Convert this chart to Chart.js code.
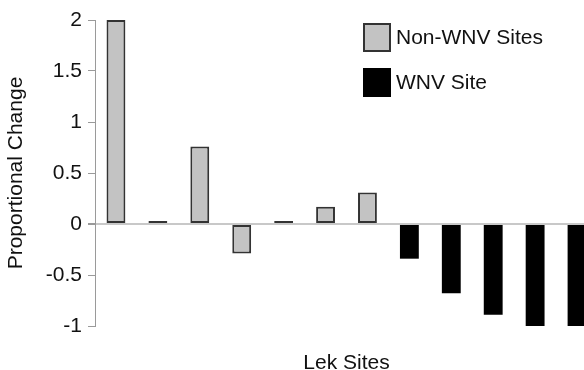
<!DOCTYPE html>
<html>
<head>
<meta charset="utf-8">
<script src="https://cdn.jsdelivr.net/npm/chart.js@4.4.1/dist/chart.umd.min.js"></script>
<style>
html, body { margin: 0; padding: 0; background: #fff; overflow: hidden; }
#wrap { width: 600px; height: 376px; }
</style>
</head>
<body>
<div id="wrap"><canvas id="chart" width="600" height="376"></canvas></div>
<script>
// Lek sites, left to right (last one runs off the right edge)
var siteLabels = ['1', '2', '3', '4', '5', '6', '7', '8', '9', '10', '11', '12'];
var nonWnvValues = [2.0, 0.03, 0.76, -0.29, 0.03, 0.17, 0.31, null, null, null, null, null];
var wnvValues = [null, null, null, null, null, null, null, -0.34, -0.68, -0.89, -1.0, -1.0];
var yTicks = [2, 1.5, 1, 0.5, 0, -0.5, -1];

var fontFamily = '"Liberation Sans", Arial, Helvetica, sans-serif';
var textColor = '#111111';

// Legend drawn as two square boxes at the top right
var boxLegend = {
    id: 'boxLegend',
    afterDraw: function(chart) {
        var ctx = chart.ctx;
        var x = chart.chartArea.left + 268;
        var y = chart.chartArea.top + 3;
        ctx.save();
        ctx.font = '21px ' + fontFamily;
        ctx.textBaseline = 'middle';
        chart.data.datasets.forEach(function(ds, i) {
            var by = y + i * 45;
            ctx.fillStyle = ds.backgroundColor;
            ctx.fillRect(x, by, 28, 29);
            ctx.lineWidth = 2;
            ctx.strokeStyle = ds.borderColor;
            ctx.strokeRect(x + 1, by + 1, 26, 27);
            ctx.fillStyle = textColor;
            ctx.fillText(ds.label, x + 33, by + 15);
        });
        ctx.restore();
    }
};

new Chart(document.getElementById('chart'), {
    type: 'bar',
    data: {
        labels: siteLabels,
        datasets: [
            {
                label: 'Non-WNV Sites',
                data: nonWnvValues,
                backgroundColor: '#c3c3c3',
                borderColor: '#333333',
                borderWidth: 2,
                borderSkipped: false
            },
            {
                label: 'WNV Site',
                data: wnvValues,
                backgroundColor: '#000000',
                borderColor: '#000000',
                borderWidth: 0
            }
        ]
    },
    options: {
        responsive: false,
        animation: false,
        layout: { padding: { top: 20, right: 2, left: 0, bottom: 0 } },
        datasets: {
            bar: { barPercentage: 0.45, categoryPercentage: 1.0 }
        },
        plugins: {
            legend: { display: false },
            tooltip: { enabled: false }
        },
        scales: {
            x: {
                stacked: true,
                grid: { display: false },
                border: { display: false },
                ticks: { display: false },
                title: {
                    display: true,
                    text: 'Lek Sites',
                    color: textColor,
                    font: { family: fontFamily, size: 21 },
                    padding: 0
                },
                afterFit: function(scale) { scale.height = 50; }
            },
            y: {
                stacked: true,
                min: -1,
                max: 2,
                afterBuildTicks: function(scale) {
                    scale.ticks = yTicks.map(function(v) { return { value: v }; });
                },
                grid: {
                    drawOnChartArea: true,
                    tickLength: 7,
                    lineWidth: function(c) { return c.tick && c.tick.value === 0 ? 2 : 1; },
                    color: function(c) { return c.tick && c.tick.value === 0 ? '#c8c8c8' : 'rgba(0,0,0,0)'; },
                    tickColor: '#9a9a9a'
                },
                border: { display: true, color: '#9a9a9a', width: 1 },
                ticks: {
                    color: textColor,
                    padding: 6,
                    font: { family: fontFamily, size: 21 },
                    callback: function(v) { return String(v); }
                },
                title: {
                    display: true,
                    text: 'Proportional Change',
                    color: textColor,
                    font: { family: fontFamily, size: 21 },
                    padding: { top: 4, bottom: 0 }
                },
                afterFit: function(scale) { scale.width = 95; }
            }
        }
    },
    plugins: [boxLegend]
});
</script>
</body>
</html>
